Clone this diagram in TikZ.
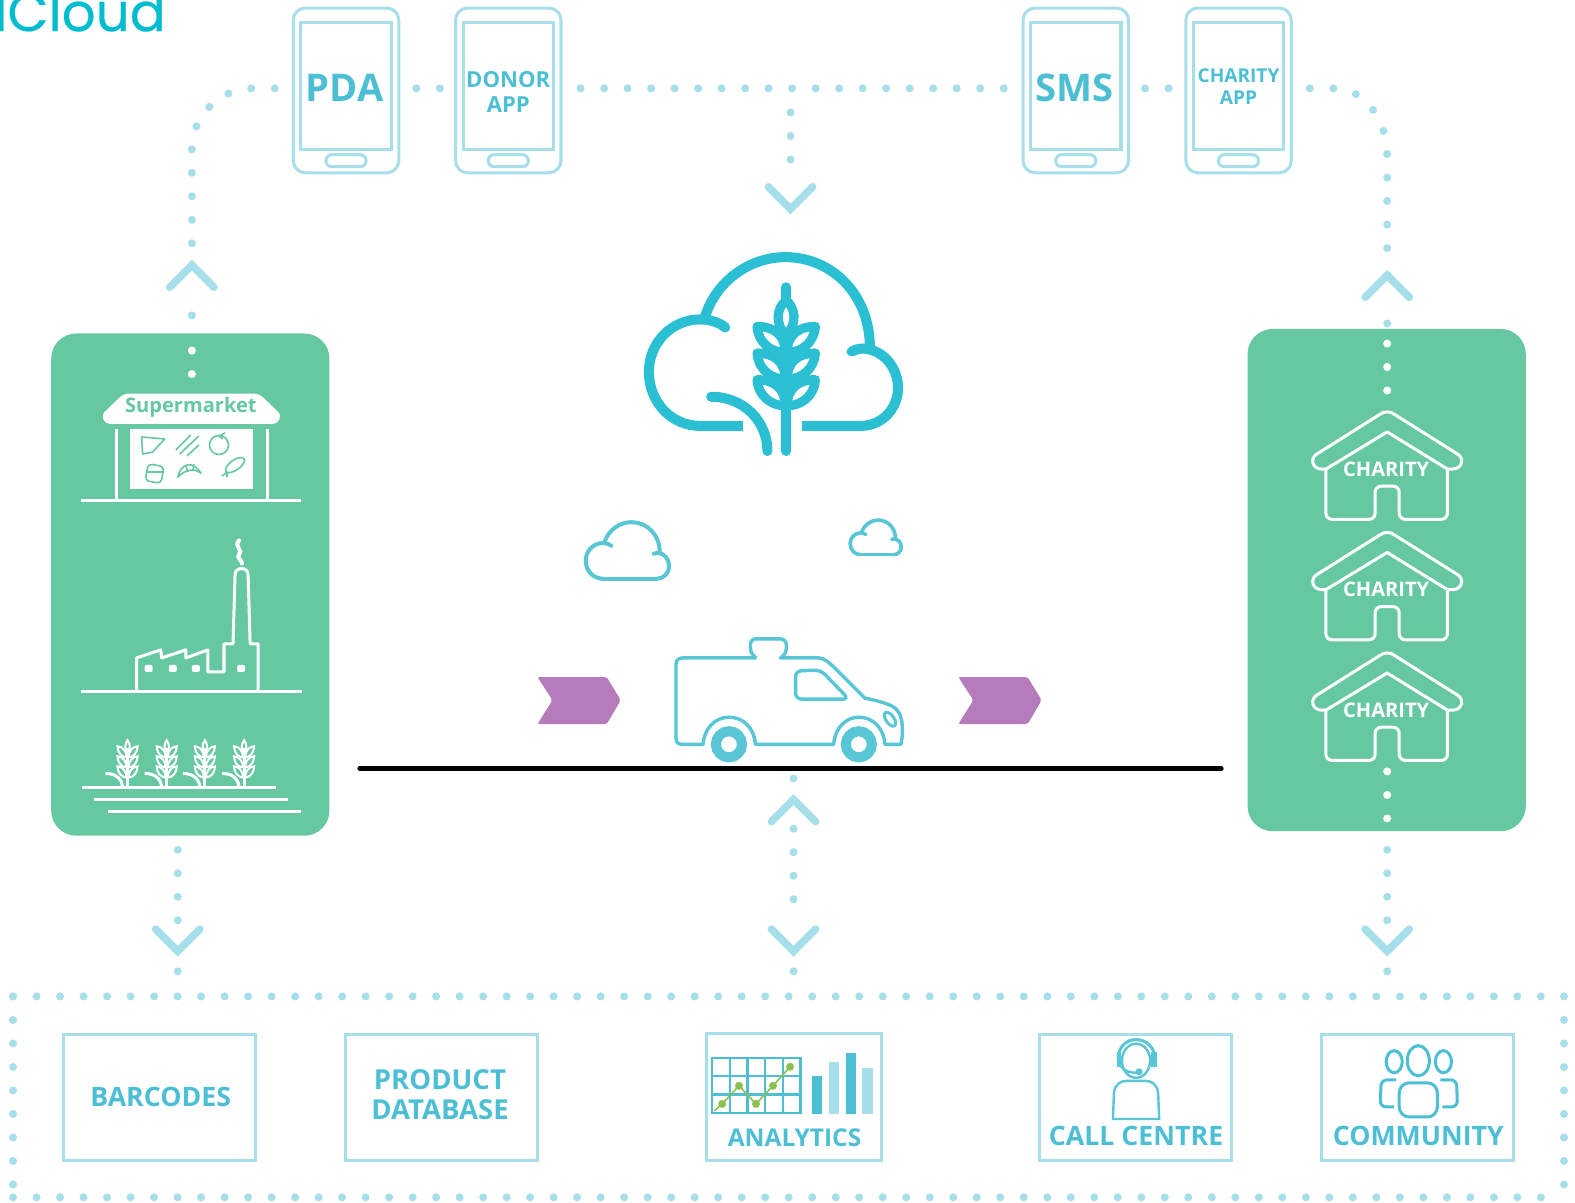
\documentclass[tikz,border=0pt]{standalone}
\usepackage{fontspec}
\setmainfont{Open Sans}
\newfontfamily\logofont[FakeBold=0.4]{Poppins}
\definecolor{dotblue}{HTML}{A6DEEA}
\definecolor{textblue}{HTML}{4DBFD4}
\definecolor{cloudblue}{HTML}{2BBFD3}
\definecolor{vanblue}{HTML}{58C6D4}
\definecolor{logoblue}{HTML}{00BCD0}
\definecolor{panelgreen}{HTML}{66C8A0}
\definecolor{chevpurple}{HTML}{B57BBB}
\definecolor{markgreen}{HTML}{8CC152}
\tikzset{
  dots/.style={draw=dotblue, line width=4pt, line cap=round, dash pattern=on 0pt off 11.7pt},
  whitedots/.style={dots, draw=white},
  chev/.style={draw=dotblue, line width=3.8pt, line cap=round},
  phone/.style={draw=dotblue, line width=1.5pt, rounded corners=6pt, minimum width=52.5pt, minimum height=82pt},
  infobox/.style={draw=dotblue, line width=1.5pt, minimum width=95.5pt, minimum height=62.5pt, inner sep=0pt, align=center, text=textblue, font=\fontsize{13.3}{15}\selectfont\bfseries},
  panel/.style={fill=panelgreen, rounded corners=12.5pt, minimum width=138.5pt, minimum height=250pt},
  label/.style={inner sep=0pt, text=textblue, align=center, font=\bfseries},
  icon/.style={draw=white, line width=1.5pt},
  chevdown/.pic={\draw[chev] (-22,-22) -- (0,0) -- (22,-22);},
  chevup/.pic={\draw[chev] (-22,22) -- (0,0) -- (22,22);},
  cloudarcs/.pic={
    \draw (-69,-25) .. controls (-58,-60) and (-25,-84) .. (11,-84) .. controls (56,-84) and (95,-48) .. (95,6);
    \draw (-49,-14) .. controls (-55,-19) and (-64,-22) .. (-74,-22) .. controls (-103,-22) and (-125,2) .. (-125,30) .. controls (-125,60) and (-103,84) .. (-74,84);
    \draw (86,84) .. controls (107,84) and (123,67) .. (123,46) .. controls (123,25) and (107,7) .. (87,7) .. controls (84,7) and (81,8) .. (77,10);
  },
  grain/.pic={
    \draw[icon] (0,0) -- (0,-40);
    \draw[icon] (-22,-15) .. controls (-10,-15) and (-5,-8) .. (-5,0);
    \draw[icon, line width=1pt] (0,-48) .. controls (-3,-44) and (-3,-39) .. (0,-36) .. controls (3,-39) and (3,-44) .. cycle;
    \foreach \d in {0,10,20} {
      \draw[icon, line width=1pt] (-1,-11-\d) .. controls (-6,-11-\d) and (-10,-16-\d) .. (-10,-22-\d) .. controls (-5,-22-\d) and (-1,-17-\d) .. cycle;
      \draw[icon, line width=1pt] (1,-11-\d) .. controls (6,-11-\d) and (10,-16-\d) .. (10,-22-\d) .. controls (5,-22-\d) and (1,-17-\d) .. cycle;
    }
  },
  house/.pic={
    \draw[icon, rounded corners=3pt] (-61,38) -- (-61,87) -- (-12,87) -- (-12,54) -- (12,54) -- (12,87) -- (60,87) -- (60,38);
    \draw[icon, line join=round] (-61,37) -- (0,0) -- (60,37);
    \draw[icon, line join=round] (60,37) -- (65,37) .. controls (75,37) and (77,26) .. (70,22) -- (8,-17) .. controls (3,-21) and (-3,-21) .. (-8,-17) -- (-70,22) .. controls (-77,26) and (-75,37) .. (-65,37) -- (-61,37);
  }
}
\begin{document}
\begin{tikzpicture}[x=0.5pt, y=-0.5pt]
  \useasboundingbox (0,0) rectangle (1568,1197);
  % logo, cut off by the page
  \node[anchor=base west, inner sep=0pt, text=logoblue, font=\fontsize{26.5}{26.5}\logofont] (logo) at (-6,31) {lCloud};

  % panels and phones
  \node[panel] (supply) at (189.5,582) {};
  \node[panel] (charities) at (1380.5,577.5) {};
  \foreach \x/\name in {344.5/pda,506/donor,1071/sms,1233/charityapp} {
    \node[phone] (\name) at (\x,90) {};
    \draw[draw=dotblue, line width=1.5pt] (\x-45,22) rectangle (\x+45,149);
    \draw[draw=dotblue, line width=1.5pt, rounded corners=3pt] (\x-20,154) rectangle (\x+20,166);
  }
  \node[label, font=\fontsize{19}{19}\selectfont\bfseries] (pdatext) at (343,87) {PDA};
  \node[label, font=\fontsize{11}{12.5}\selectfont\bfseries] (donortext) at (506,92) {DONOR\\APP};
  \node[label, font=\fontsize{19}{19}\selectfont\bfseries] (smstext) at (1070,87) {SMS};
  \node[label, font=\fontsize{9.5}{11}\selectfont\bfseries] (charitytext) at (1233,86) {CHARITY\\APP};

  % dotted links along the top
  \draw[dots, shorten <=8.5pt] ([yshift=1pt]pda.west) -- (251,88) .. controls (218,88) and (191,116) .. (191,149) -- (191,244);
  \draw[dots, shorten <=8pt, shorten >=6pt] ([yshift=1pt]pda.east) -- ([yshift=1pt]donor.west);
  \draw[dots, shorten <=9pt, shorten >=6pt] ([yshift=1pt]donor.east) -- ([yshift=1pt]sms.west);
  \draw[dots, shorten <=7.5pt, shorten >=6pt] ([yshift=1pt]sms.east) -- ([yshift=1pt]charityapp.west);
  \draw[dots, shorten <=8.5pt] ([yshift=1pt]charityapp.east) -- (1328,88) .. controls (1358,88) and (1381,118) .. (1381,156) -- (1381,250);
  \coordinate (branch) at (787,112);
  \draw[dots] (branch) -- (787,160);
  \pic at (787,208) {chevdown};
  \pic at (191,264) {chevup};
  \pic at (1381,274) {chevup};

  % dots into and out of the panels
  \draw[dots] (191,314) -- (supply.north -| 191,314);
  \draw[whitedots] (191,349) -- (191,373.5);
  \draw[dots] (1381,322) -- (charities.north -| 1381,322);
  \draw[whitedots] (1381,342) -- (1381,389);
  \draw[whitedots] (1381,768) -- (1381,815);
  \coordinate (supplyout) at (177,846);
  \coordinate (charityout) at (1381,846);
  \draw[dots] (supplyout) -- (177,918);
  \draw[dots] (charityout) -- (1381,918);
  \draw[dots] (790,825) -- (790,918);
  \foreach \x/\name in {177/dotl,790/dotm,1381/dotr} {
    \pic at (\x,947) {chevdown};
    \fill[dotblue] (\x,967) circle (4) coordinate (\name);
  }
  \pic at (790,796) {chevup};
  \fill[dotblue] (790,775) circle (4);

  % big cloud with wheat
  \begin{scope}[shift={(771,340)}, draw=cloudblue, line width=5pt, line cap=round]
    \pic {cloudarcs};
    \draw[line cap=butt] (-74,84) -- (-31,84);
    \draw[line cap=butt] (27,84) -- (86,84);
    \draw (-63,55) .. controls (-30,55) and (-7,80) .. (-7,109);
  \end{scope}
  \begin{scope}[draw=cloudblue, line width=4.6pt, line join=round]
    \foreach \d in {53,26.5,0}
    \foreach \s in {1,-1}
    \filldraw[fill=white, xshift=782.7*0.5pt, xscale=\s] (-29,325+\d) .. controls (-13,325+\d) and (-1,333+\d) .. (-1,351+\d) .. controls (-15,351+\d) and (-28,341+\d) .. cycle;
    \filldraw[fill=white] (782.7,299) .. controls (773,307) and (771,322) .. (782.7,334) .. controls (794,322) and (792,307) .. cycle;
  \end{scope}
  \draw[cloudblue, line width=5pt, line cap=round] (782.7,286) -- (782.7,298);
  \draw[cloudblue, line width=5pt, line cap=round] (782.7,335) -- (782.7,449);

  % small clouds
  \begin{scope}[shift={(625,548)}, scale=.335, draw=vanblue, line width=2pt, line cap=round]
    \pic[transform shape] {cloudarcs};
    \draw (-74,84) -- (86,84);
  \end{scope}
  \begin{scope}[shift={(872,535)}, scale=.205, draw=vanblue, line width=1.8pt, line cap=round]
    \pic[transform shape] {cloudarcs};
    \draw (-74,84) -- (86,84);
  \end{scope}

  % van on the road
  \draw[draw=vanblue, line width=1.7pt, line join=round]
    (753,655) -- (680,655) .. controls (676,655) and (673,657) .. (673,661) -- (673,735) .. controls (673,739) and (675,741) .. (679,741) -- (700,741)
    .. controls (701,725) and (712,714) .. (726,714) .. controls (740,714) and (751,725) .. (752,741) -- (830,741)
    .. controls (831,725) and (842,714) .. (855,714) .. controls (869,714) and (880,725) .. (881,741) -- (897,741)
    .. controls (900,725) and (899,708) .. (888,703) .. controls (880,699) and (870,697) .. (861,695) -- (832,666) .. controls (825,659) and (820,655) .. (815,655) -- (777,655)
    .. controls (782,652) and (783,648) .. (783,643) .. controls (783,638) and (780,636) .. (776,636) -- (753,636) .. controls (749,636) and (747,638) .. (747,643) .. controls (747,648) and (748,652) .. (753,655);
  \draw[draw=vanblue, line width=1.7pt, rounded corners=3pt] (792,668) -- (817,667) -- (845,696) -- (792,696) -- cycle;
  \draw[draw=vanblue, line width=1.5pt, rotate around={35:(886,716)}] (886,716) ellipse [x radius=4, y radius=8];
  \foreach \x in {725.7,855} \draw[draw=vanblue, line width=5pt, fill=white] (\x,741) circle (13);
  \coordinate (roadl) at (358,765);
  \coordinate (roadr) at (1216,765);
  \draw[black, line width=2.2pt, line cap=round] (roadl) -- (roadr);
  \foreach \x in {0,419}
  \fill[chevpurple, rounded corners=1pt, xshift=\x*0.5pt] (535,674) -- (604,674) -- (618,697) -- (604,721) -- (535,721) -- (550,697) -- cycle;

  % left panel: shop
  \fill[white, rounded corners=2pt] (123,392) -- (258,392) -- (280,413) -- (276,422) -- (105,422) -- (101,413) -- cycle;
  \node[inner sep=0pt, text=panelgreen, font=\fontsize{10}{10}\selectfont\bfseries] (shopname) at (190,405) {Supermarket};
  \fill[white] (129,427) rectangle (252,487);
  \draw[icon] (116,427) -- (116,498) (266,427) -- (266,498) (81,498) -- (300,498);
  \begin{scope}[draw=panelgreen, line width=.8pt, line join=round]
    \draw (141,435) -- (164,437) -- (152,450) -- (142,452) -- cycle;
    \draw (175,448) -- (190,433) (179,452) -- (198,434) (186,454) -- (198,443);
    \draw (218,443) circle (9.5);
    \draw (218,434) -- (224,431) (218,434) -- (222,437);
    \draw[rounded corners=2pt, rotate around={-10:(154,471)}] (146,463) rectangle (162,480);
    \draw (146,470) -- (162,470);
    \draw (177,475) .. controls (180,461) and (192,458) .. (200,471) .. controls (193,466) and (185,467) .. cycle;
    \draw (185,463) -- (187,470) (193,462) -- (192,469);
    \draw[rotate around={35:(234,463)}] (234,463) ellipse [x radius=11, y radius=5];
    \draw (226,470) -- (221,474) (226,470) -- (226,475);
  \end{scope}

  % left panel: factory
  \draw[icon, line join=round] (136,689) -- (136,655) -- (160,647) -- (161,655) -- (185,647) -- (185,655) -- (207,647) -- (207,669) -- (223,669) -- (223,641) -- (232,641) -- (234,572) .. controls (234,564) and (247,564) .. (247,572) -- (249,641) -- (257,641) -- (257,689);
  \draw[icon] (81,688) -- (301,688);
  \draw[icon, line width=2pt, line cap=round] (238,538) .. controls (232,544) and (243,548) .. (238,552) .. controls (235,555) and (241,558) .. (241,561);
  \foreach \x in {148,172,195,240}
  \fill[white, rounded corners=1pt] (\x-4,669) rectangle (\x+4,662);

  % left panel: field
  \foreach \x in {127,166,204,243}
  \pic at (\x,785) {grain};
  \draw[icon] (82,784) -- (275,784) (94,796) -- (287,796) (108,808) -- (300,808);

  % right panel: three charities
  \foreach \y/\name in {430/one,550/two,670/three} {
    \pic at (1381,\y) {house};
    \node[inner sep=0pt, text=white, font=\fontsize{10}{10}\selectfont\bfseries] (charity\name) at (1380,\y+37) {CHARITY};
  }

  % bottom row
  \node[minimum width=772pt, minimum height=100pt, inner sep=0pt, outer sep=0pt] (frame) at (785,1092) {};
  \draw[dots] (frame.north west) -- (frame.north east);
  \draw[dots] (frame.north west) -- (frame.south west);
  \draw[dots] (frame.north east) -- (frame.south east);
  \draw[dots] (frame.south west) -- (frame.south east);
  \node[infobox] (barcodes) at (158.5,1092.5) {};
  \node[infobox] (product) at (439.5,1092.5) {};
  \node[infobox, minimum width=87.5pt, minimum height=63pt] (analytics) at (790.5,1092) {};
  \node[infobox] (callcentre) at (1130.5,1092.5) {};
  \node[infobox] (community) at (1411.5,1092.5) {};
  \node[label, font=\fontsize{13.3}{13.3}\selectfont\bfseries] (barcodestext) at (160,1092) {BARCODES};
  \node[label, font=\fontsize{13.7}{15}\selectfont\bfseries] (producttext) at (438,1090) {PRODUCT\\DATABASE};
  \node[label, font=\fontsize{12.2}{12.2}\selectfont\bfseries] (analyticstext) at (791,1133) {ANALYTICS};
  \node[label, font=\fontsize{13.3}{13.3}\selectfont\bfseries] (calltext) at (1131,1131) {CALL CENTRE};
  \node[label, font=\fontsize{13.3}{13.3}\selectfont\bfseries] (communitytext) at (1412,1131) {COMMUNITY};

  % analytics chart
  \draw[textblue, line width=1.2pt] (709,1053) rectangle (797,1108);
  \foreach \x in {726.6,744.2,761.8,779.4} \draw[textblue, line width=1.2pt] (\x,1053) -- (\x,1108);
  \foreach \y in {1071.3,1089.7} \draw[textblue, line width=1.2pt] (709,\y) -- (797,\y);
  \draw[markgreen, line width=.8pt] (711,1106) -- (719,1099) -- (735.7,1081) -- (752.6,1099) -- (769.6,1081) -- (786.5,1062);
  \foreach \x/\y in {719/1099,735.7/1081,752.6/1099,769.6/1081,786.5/1062}
  \fill[markgreen] (\x,\y) circle (4);
  \fill[textblue] (808,1071) rectangle (818,1109);
  \fill[dotblue] (825,1057) rectangle (835,1109);
  \fill[textblue] (842,1048) rectangle (852,1109);
  \fill[dotblue] (858,1063) rectangle (869,1109);

  % call centre figure
  \begin{scope}[draw=vanblue, line width=1.2pt]
    \draw (1131,1056) ellipse [x radius=14, y radius=17];
    \draw[line width=1.5pt] (1113,1056) .. controls (1113,1042) and (1121,1035) .. (1131,1035) .. controls (1141,1035) and (1150,1042) .. (1150,1056);
    \draw (1108,1114) -- (1154,1114) -- (1153,1088) .. controls (1152,1079) and (1146,1076) .. (1140,1076) -- (1122,1076) .. controls (1116,1076) and (1110,1079) .. (1109,1088) -- cycle;
    \fill[vanblue] (1112,1047) rectangle (1116,1062);
    \fill[vanblue] (1146,1047) rectangle (1152,1062);
    \fill[vanblue] (1134,1067) circle (3.5);
    \draw (1116,1062) .. controls (1120,1067) and (1127,1068) .. (1132,1068);
  \end{scope}

  % community figure
  \begin{scope}[draw=textblue, line width=1.5pt]
    \draw (1412,1056) ellipse [x radius=11, y radius=15];
    \draw (1388,1057) ellipse [x radius=8, y radius=11];
    \draw (1437,1057) ellipse [x radius=8, y radius=11];
    \draw[rounded corners=5pt] (1393,1112) -- (1431,1112) -- (1431,1078) -- (1393,1078) -- cycle;
    \draw[rounded corners=3pt] (1390,1075) -- (1375,1075) -- (1374,1102) -- (1388,1102);
    \draw[rounded corners=3pt] (1434,1075) -- (1450,1075) -- (1451,1102) -- (1436,1102);
  \end{scope}
\end{tikzpicture}
\end{document}
